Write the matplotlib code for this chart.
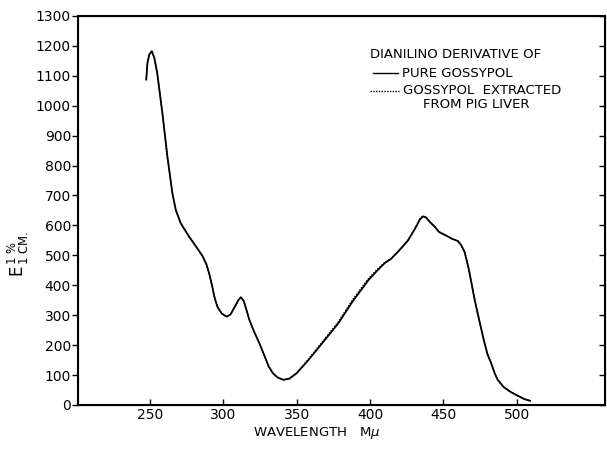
import numpy as np
import matplotlib
matplotlib.use("Agg")
from matplotlib import pyplot as plt

# wavelength (m-mu) and E 1%/1cm
wl = [247.5, 248.3, 249.5, 251.3, 253, 255, 258.5, 261.9, 265.3, 267.6, 271, 276.6,
      282.2, 286, 288.5, 290.6, 292.5, 294, 296, 299, 302.4, 305, 308, 310.5, 312,
      314, 316, 317.8, 321, 324.5, 328, 331, 334, 337, 341, 345, 350, 358, 368,
      378.4, 388, 398.7, 404.3, 410, 414.5, 420, 425.9, 431, 434, 436, 438, 441,
      444, 447, 453, 456, 459.8, 462, 464.5, 467, 469, 471.3, 475, 478, 480,
      482.5, 485, 487, 491, 496, 501, 505, 509]
e_pure = [1087, 1142, 1170, 1182, 1160, 1108, 975, 830, 708, 652, 607, 563,
          524, 496, 470, 435, 395, 360, 328, 305, 295, 303, 330, 352, 360,
          347, 314, 284, 245, 207, 165, 128, 105, 92, 84, 88, 106, 150, 210,
          273, 345, 416, 446, 474, 489, 517, 550, 592, 620, 630, 627, 610,
          596, 578, 563, 555, 548, 535, 510, 460, 410, 351, 270, 207, 170,
          140, 105, 84, 60, 43, 30, 20, 14]
e_liver = [1087, 1142, 1170, 1182, 1160, 1108, 975, 830, 708, 652, 607, 563,
           524, 496, 470, 435, 395, 360, 328, 305, 295, 303, 330, 352, 360,
           347, 314, 284, 245, 207, 165, 128, 105, 92, 84, 88, 107, 153, 214,
           278, 351, 421, 450, 476, 490, 518, 551, 593, 622, 631, 628, 611,
           596, 578, 563, 555, 548, 535, 510, 460, 410, 351, 270, 207, 170,
           140, 105, 84, 60, 43, 30, 20, 14]

xticks = [250, 300, 350, 400, 450, 500]
yticks = list(range(0, 1301, 100))

plt.rcParams['font.family'] = ['DejaVu Sans']

fig = plt.figure(figsize=(6.07, 4.53), dpi=100)
ax = fig.add_axes([0.1285, 0.106, 0.868, 0.859])

ax.plot(wl, e_pure, color="black", lw=1.3, solid_joinstyle="round")
ax.plot(wl, e_liver, color="black", lw=1.0, ls=(0, (1, 1)))

ax.set_xlim(201, 560)
ax.set_ylim(0, 1300)
ax.set_xticks(xticks)
ax.set_yticks(yticks)
ax.tick_params(axis="x", direction="in", length=4, width=1, labelsize=10, pad=2)
ax.tick_params(axis="y", direction="out", length=4, width=1, labelsize=10, pad=1)
for s in ax.spines.values():
    s.set_linewidth(1.5)

# inward ticks on the right frame
ax2 = ax.twinx()
ax2.set_ylim(0, 1300)
ax2.set_yticks(yticks)
ax2.tick_params(axis="y", direction="in", length=4, width=1, labelright=False)

fig.text(317 / 607, 1 - 433 / 453, r"WAVELENGTH   M$\mu$", fontsize=9.5,
         ha="center", va="center")
fig.text(0.03, 0.44, r"$\mathregular{E}^{\,1\ \%}_{\,1\ \mathregular{CM.}}$",
         rotation=90, fontsize=12, ha="center", va="center")

# legend as lettered on the original
ax.text(399.9, 1170, "DIANILINO DERIVATIVE OF", fontsize=9.5, va="center")
ax.plot([401.7, 419], [1109, 1109], color="black", lw=1)
ax.text(421.5, 1109, "PURE GOSSYPOL", fontsize=9.5, va="center")
ax.plot([399.9, 419.7], [1050, 1050], color="black", lw=1, ls=(0, (1, 1)))
ax.text(422.4, 1050, "GOSSYPOL  EXTRACTED", fontsize=9.5, va="center")
ax.text(436, 1003, "FROM PIG LIVER", fontsize=9.5, va="center")

fig.savefig("out.png", dpi=100)
